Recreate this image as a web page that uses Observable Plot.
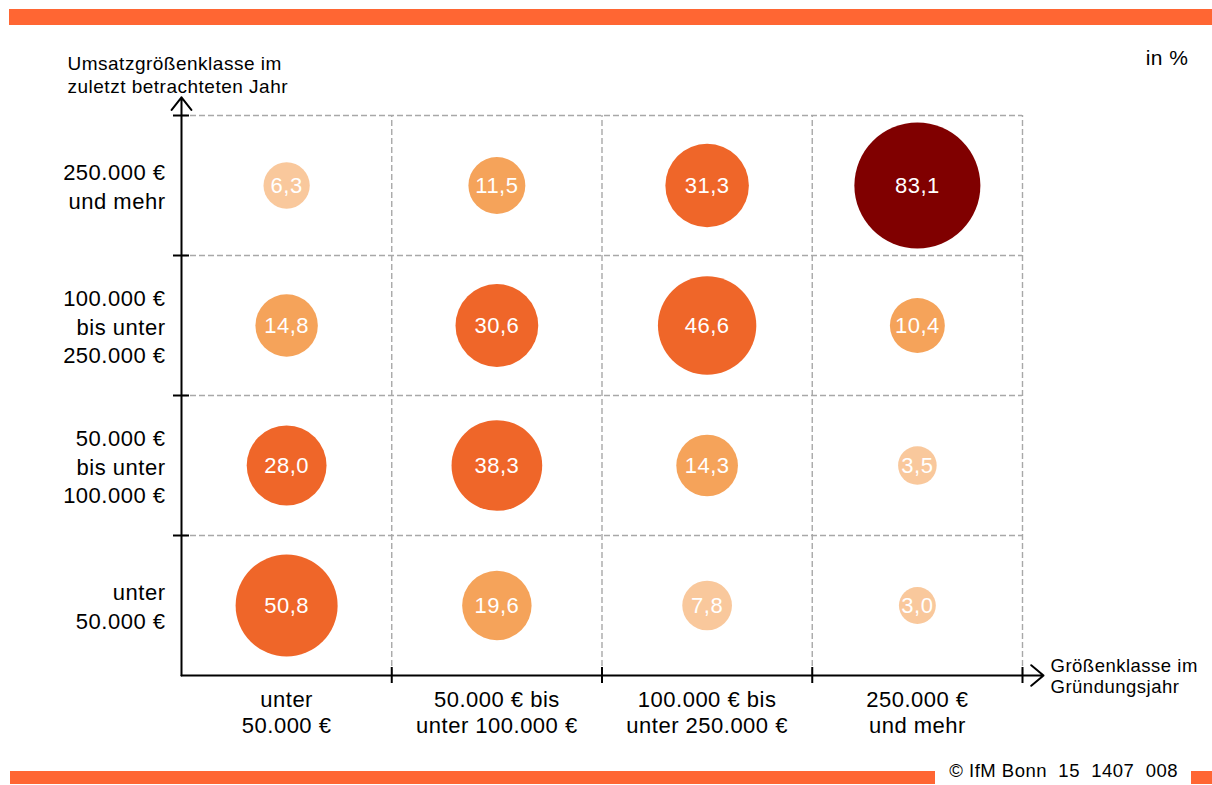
<!DOCTYPE html>
<html>
<head>
<meta charset="utf-8">
<script src="https://cdn.jsdelivr.net/npm/d3@7"></script>
<script src="https://cdn.jsdelivr.net/npm/@observablehq/plot@0.6"></script>
<style>
  body { margin: 0; background: #ffffff; font-family: "Liberation Sans", Arial, sans-serif; }
  #wrap { position: relative; width: 1212px; height: 785px; overflow: hidden; background: #fff; }
  .bar { position: absolute; background: #ff6633; }
  #chart { position: absolute; left: 0; top: 0; }
  #footer { position: absolute; right: 34px; top: 762px; font-size: 18.5px; line-height: 1; letter-spacing: 0.5px; white-space: pre; color: #000; }
</style>
</head>
<body>
<div id="wrap">
  <div class="bar" style="left:9px;top:9px;width:1203px;height:16px"></div>
  <div id="chart"></div>
  <div class="bar" style="left:10px;top:771px;width:925px;height:13px"></div>
  <div class="bar" style="left:1191px;top:771px;width:21px;height:13px"></div>
  <div id="footer">© IfM Bonn  15  1407  008</div>
</div>
<script>
// Column categories: Größenklasse im Gründungsjahr
const colLabels = ["unter\n50.000 €", "50.000 € bis\nunter 100.000 €", "100.000 € bis\nunter 250.000 €", "250.000 €\nund mehr"];
// Row categories (bottom to top): Umsatzgrößenklasse im zuletzt betrachteten Jahr
const rowLabels = ["unter\n50.000 €", "50.000 €\nbis unter\n100.000 €", "100.000 €\nbis unter\n250.000 €", "250.000 €\nund mehr"];

// Values in %, one array per row, ordered by column
const rowUnter50 = [50.8, 19.6, 7.8, 3.0];
const row50bis100 = [28.0, 38.3, 14.3, 3.5];
const row100bis250 = [14.8, 30.6, 46.6, 10.4];
const row250undMehr = [6.3, 11.5, 31.3, 83.1];
const rowValues = [rowUnter50, row50bis100, row100bis250, row250undMehr];

const gridLines = [1, 2, 3, 4];
const colorThresholds = [10, 20, 60];
const colorRange = ["#f9c89c", "#f5a35a", "#ef6629", "#800000"];

const cells = rowValues.flatMap((vals, i) => vals.map((v, j) => ({col: j + 0.5, row: i + 0.5, value: v})));
const colTable = colLabels.map((t, j) => ({pos: j + 0.5, text: t}));
const rowTable = rowLabels.map((t, i) => ({pos: i + 0.5, text: t}));
const fmt = v => v.toFixed(1).replace(".", ",");

const chart = Plot.plot({
  width: 1212,
  height: 785,
  marginLeft: 181,
  marginRight: 190,
  marginTop: 115,
  marginBottom: 110,
  style: {fontFamily: "'Liberation Sans', Arial, sans-serif", fontSize: "22px", letterSpacing: "0.5px", background: "transparent", overflow: "visible", color: "#000"},
  x: {domain: [0, 4], axis: null},
  y: {domain: [0, 4], axis: null},
  r: {type: "sqrt", domain: [0, 83.1], range: [8, 63]},
  color: {type: "threshold", domain: colorThresholds, range: colorRange},
  marks: [
    Plot.ruleY(gridLines, {x1: 0, x2: 4, stroke: "#a8a8a8", strokeWidth: 1.4, strokeDasharray: "6,3"}),
    Plot.ruleX(gridLines, {y1: 0, y2: 4, stroke: "#a8a8a8", strokeWidth: 1.4, strokeDasharray: "6,3"}),
    Plot.arrow([0], {x1: 0, y1: 0, x2: 4.1, y2: 0, stroke: "#000", strokeWidth: 2, headLength: 12, headAngle: 80}),
    Plot.arrow([0], {x1: 0, y1: 0, x2: 0, y2: 4.13, stroke: "#000", strokeWidth: 2, headLength: 12, headAngle: 76}),
    Plot.ruleY(gridLines, {x1: 0, x2: 0, insetLeft: -8, insetRight: -8, stroke: "#000", strokeWidth: 2}),
    Plot.ruleX(gridLines, {y1: 0, y2: 0, insetTop: -8, insetBottom: -8, stroke: "#000", strokeWidth: 2}),
    Plot.dot(cells, {x: "col", y: "row", r: "value", fill: "value", stroke: null}),
    Plot.text(cells, {x: "col", y: "row", text: d => fmt(d.value), fill: "#ffffff", fontSize: 22}),
    Plot.text(colTable, {x: "pos", y: 0, text: "text", lineAnchor: "top", dy: 12, lineHeight: 1.22, fontSize: 22, fill: "#000"}),
    Plot.text(rowTable, {x: 0, y: "pos", text: "text", textAnchor: "end", dx: -16, lineHeight: 1.28, fontSize: 22, fill: "#000"}),
    Plot.text(["Umsatzgrößenklasse im\nzuletzt betrachteten Jahr"], {frameAnchor: "top-left", textAnchor: "start", lineAnchor: "top", dx: -114, dy: -63, lineHeight: 1.26, fontSize: 19, fill: "#000"}),
    Plot.text(["Größenklasse im\nGründungsjahr"], {frameAnchor: "bottom-right", textAnchor: "start", lineAnchor: "middle", dx: 28, dy: 0, lineHeight: 1.15, fontSize: 18.5, fill: "#000"}),
    Plot.text(["in %"], {frameAnchor: "top-right", textAnchor: "end", lineAnchor: "top", dx: 166, dy: -65, fontSize: 21, fill: "#000"})
  ]
});
document.getElementById("chart").appendChild(chart);
</script>
</body>
</html>
